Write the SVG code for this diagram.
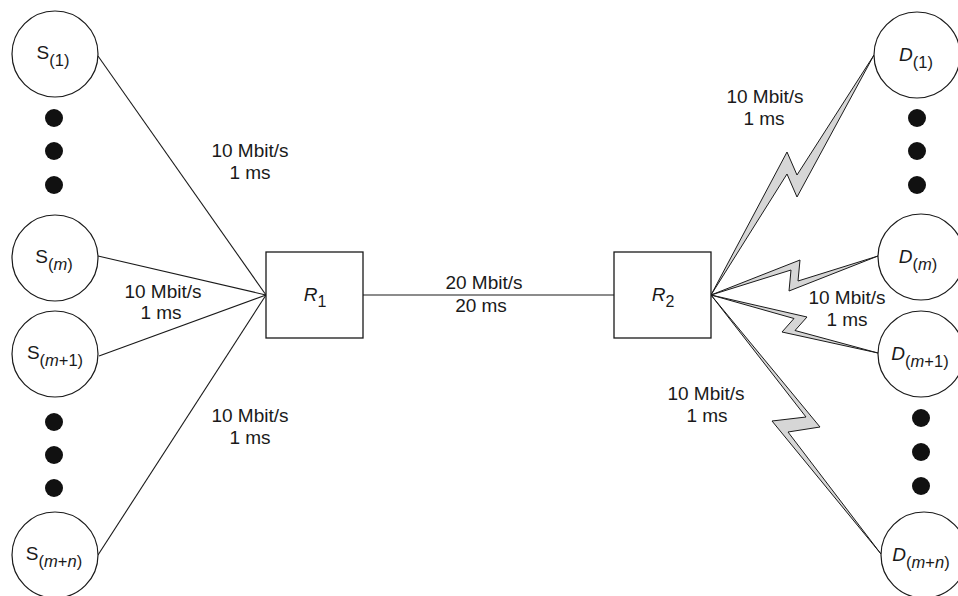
<svg xmlns="http://www.w3.org/2000/svg" width="958" height="596" viewBox="0 0 958 596">
  <style>
    .host { fill: #ffffff; stroke: #1a1a1a; stroke-width: 1.2; }
    .dot { fill: #111111; }
    .router { fill: #ffffff; stroke: #1a1a1a; stroke-width: 1.3; }
    .wire { stroke: #1a1a1a; stroke-width: 1.1; fill: none; }
    .bolt { fill: #d6d6d6; stroke: #1a1a1a; stroke-width: 1; stroke-linejoin: miter; }
    text { font-family: "Liberation Sans", Arial, Helvetica, sans-serif; fill: #1a1a1a; }
    .lbl { font-size: 19px; text-anchor: middle; }
    .name { font-size: 19px; text-anchor: middle; }
    .sub { font-size: 16.5px; }
    .rsub { font-size: 16px; }
    .it { font-style: italic; }
  </style>

  <rect width="958" height="596" fill="#ffffff"/>

  <!-- connectors -->
  <g id="links">
    <line class="wire" x1="98" y1="56" x2="266" y2="295"/>
    <line class="wire" x1="98" y1="256" x2="266" y2="295"/>
    <line class="wire" x1="99" y1="356" x2="266" y2="295"/>
    <line class="wire" x1="98" y1="555" x2="266" y2="295"/>
    <line class="wire" x1="363" y1="295" x2="614" y2="295"/>
    <!-- wireless links from R2 -->
    <polygon class="bolt" points="711,295 787,152 797,175 874,55 797,197 787,174"/>
    <polygon class="bolt" points="711,295 800,260 798,281 878,256 789,291 791,270"/>
    <polygon class="bolt" points="711,295 807,317 795,330.5 878,353 782,332 794,318.5"/>
    <polygon class="bolt" points="711,295 820,427 788,432 881,554 772,421 806,417"/>
  </g>

  <!-- link labels -->
  <g id="link-labels">
    <text class="lbl" x="250" y="157">10 Mbit/s</text>
    <text class="lbl" x="250" y="179">1 ms</text>
    <text class="lbl" x="163" y="298">10 Mbit/s</text>
    <text class="lbl" x="161" y="319">1 ms</text>
    <text class="lbl" x="250" y="422">10 Mbit/s</text>
    <text class="lbl" x="250" y="444">1 ms</text>
    <text class="lbl" x="484" y="289">20 Mbit/s</text>
    <text class="lbl" x="481" y="312">20 ms</text>
    <text class="lbl" x="765" y="103">10 Mbit/s</text>
    <text class="lbl" x="764" y="125">1 ms</text>
    <text class="lbl" x="847" y="304">10 Mbit/s</text>
    <text class="lbl" x="847" y="326">1 ms</text>
    <text class="lbl" x="706" y="400">10 Mbit/s</text>
    <text class="lbl" x="707" y="422">1 ms</text>
  </g>

  <!-- sources -->
  <g id="S1">
    <circle class="host" cx="55" cy="54" r="43"/>
    <text class="name" x="53" y="59">S<tspan class="sub" dy="7">(1)</tspan></text>
  </g>
  <g id="S-dots-top">
    <circle class="dot" cx="54" cy="118" r="9"/>
    <circle class="dot" cx="54" cy="151" r="9"/>
    <circle class="dot" cx="54" cy="185" r="9"/>
  </g>
  <g id="Sm">
    <circle class="host" cx="55" cy="258" r="43"/>
    <text class="name" x="54" y="263">S<tspan class="sub" dy="7">(<tspan class="it">m</tspan>)</tspan></text>
  </g>
  <g id="Sm1">
    <circle class="host" cx="55" cy="354" r="43"/>
    <text class="name" x="55" y="359">S<tspan class="sub" dy="7">(<tspan class="it">m</tspan>+1)</tspan></text>
  </g>
  <g id="S-dots-bottom">
    <circle class="dot" cx="54" cy="422" r="9"/>
    <circle class="dot" cx="54" cy="455" r="9"/>
    <circle class="dot" cx="54" cy="488" r="9"/>
  </g>
  <g id="Smn">
    <circle class="host" cx="55" cy="555" r="43"/>
    <text class="name" x="54" y="560">S<tspan class="sub" dy="7">(<tspan class="it">m</tspan>+<tspan class="it">n</tspan>)</tspan></text>
  </g>

  <!-- routers -->
  <g id="R1">
    <rect class="router" x="266" y="252" width="97" height="86"/>
    <text class="name" x="315" y="301"><tspan class="it">R</tspan><tspan class="rsub" dy="6">1</tspan></text>
  </g>
  <g id="R2">
    <rect class="router" x="614" y="252" width="97" height="86"/>
    <text class="name" x="663" y="301"><tspan class="it">R</tspan><tspan class="rsub" dy="6">2</tspan></text>
  </g>

  <!-- destinations -->
  <g id="D1">
    <circle class="host" cx="917" cy="55" r="43"/>
    <text class="name" x="916" y="61"><tspan class="it">D</tspan><tspan class="sub" dy="7">(1)</tspan></text>
  </g>
  <g id="D-dots-top">
    <circle class="dot" cx="917" cy="118" r="9"/>
    <circle class="dot" cx="917" cy="151" r="9"/>
    <circle class="dot" cx="917" cy="185" r="9"/>
  </g>
  <g id="Dm">
    <circle class="host" cx="921" cy="257" r="43"/>
    <text class="name" x="918" y="263"><tspan class="it">D</tspan><tspan class="sub" dy="7">(<tspan class="it">m</tspan>)</tspan></text>
  </g>
  <g id="Dm1">
    <circle class="host" cx="921" cy="354" r="43"/>
    <text class="name" x="920" y="360"><tspan class="it">D</tspan><tspan class="sub" dy="7">(<tspan class="it">m</tspan>+1)</tspan></text>
  </g>
  <g id="D-dots-bottom">
    <circle class="dot" cx="921" cy="418" r="9"/>
    <circle class="dot" cx="921" cy="452" r="9"/>
    <circle class="dot" cx="921" cy="486" r="9"/>
  </g>
  <g id="Dmn">
    <circle class="host" cx="924" cy="555" r="43"/>
    <text class="name" x="921" y="561"><tspan class="it">D</tspan><tspan class="sub" dy="7">(<tspan class="it">m</tspan>+<tspan class="it">n</tspan>)</tspan></text>
  </g>
</svg>
